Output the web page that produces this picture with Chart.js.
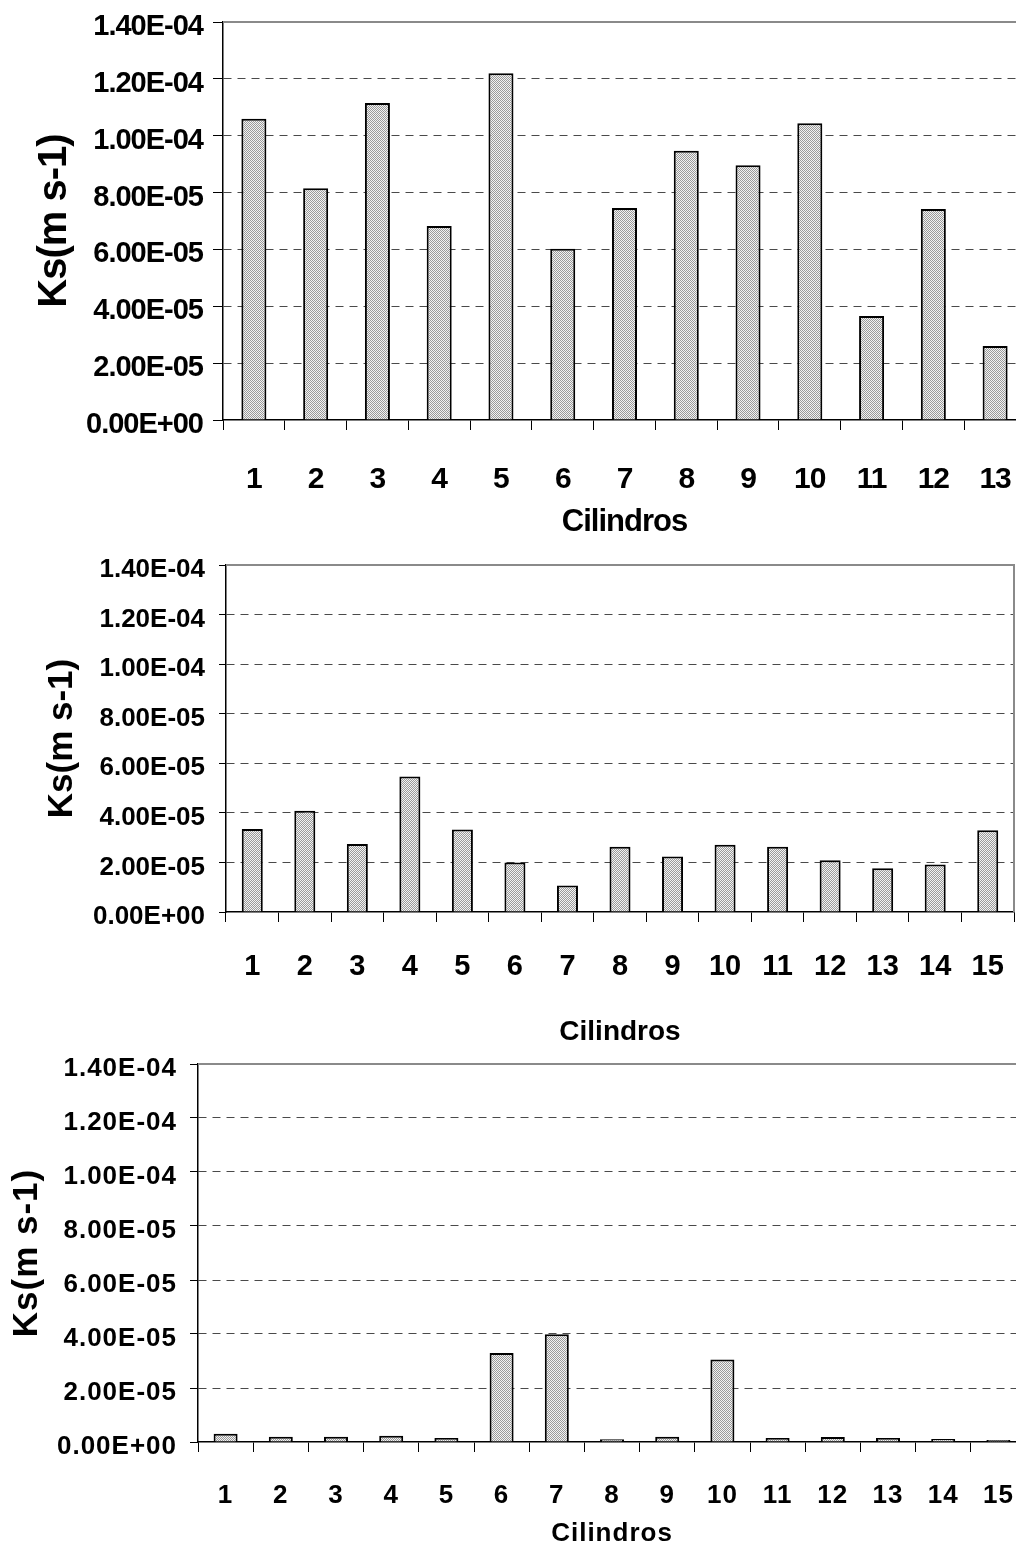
<!DOCTYPE html>
<html>
<head>
<meta charset="utf-8">
<script src="https://cdn.jsdelivr.net/npm/chart.js@4/dist/chart.umd.min.js"></script>
<style>
  html, body { margin: 0; padding: 0; background: #fff; overflow: hidden; width: 1016px; height: 1549px; }
  #wrap { position: relative; width: 1016px; height: 1549px; overflow: hidden; }
  canvas { position: absolute; left: 0; }
</style>
</head>
<body>
<div id="wrap">
  <canvas id="c1" width="1030" height="545" style="top:0px"></canvas>
  <canvas id="c2" width="1030" height="515" style="top:545px"></canvas>
  <canvas id="c3" width="1030" height="509" style="top:1040px"></canvas>
</div>
<script>
// Cylinder numbers on the x axis
const cilindros13 = ['1','2','3','4','5','6','7','8','9','10','11','12','13'];
const cilindros15 = ['1','2','3','4','5','6','7','8','9','10','11','12','13','14','15'];

// Saturated hydraulic conductivity Ks (m s-1) per cylinder
const ksSerie1 = [1.06e-4, 8.15e-5, 1.115e-4, 6.82e-5, 1.22e-4, 6.02e-5, 7.46e-5, 9.47e-5, 8.96e-5, 1.044e-4, 3.66e-5, 7.42e-5, 2.6e-5];
const ksSerie2 = [3.35e-5, 4.08e-5, 2.74e-5, 5.47e-5, 3.33e-5, 2.0e-5, 1.07e-5, 2.63e-5, 2.24e-5, 2.71e-5, 2.63e-5, 2.09e-5, 1.77e-5, 1.92e-5, 3.30e-5];
const ksSerie3 = [3.1e-6, 1.9e-6, 1.9e-6, 2.3e-6, 1.5e-6, 3.3e-5, 3.99e-5, 1.0e-6, 1.9e-6, 3.06e-5, 1.5e-6, 1.85e-6, 1.5e-6, 1.1e-6, 0.7e-6];

// Y axis tick values
const yTickValues = [0, 2e-5, 4e-5, 6e-5, 8e-5, 1e-4, 1.2e-4, 1.4e-4];

const yTitle = 'Ks(m s-1)';
const xTitle = 'Cilindros';

// Stippled grey fill used by the bars
function makeStipple() {
  const t = document.createElement('canvas');
  t.width = 4; t.height = 4;
  const g = t.getContext('2d');
  g.fillStyle = '#f2f2f2';
  g.fillRect(0, 0, 4, 4);
  g.fillStyle = '#9a9a9a';
  for (let y = 0; y < 4; y++) {
    for (let x = 0; x < 4; x++) {
      if ((x + y) % 2 === 0) g.fillRect(x, y, 1, 1);
    }
  }
  return g.createPattern(t, 'repeat');
}
const stipple = makeStipple();

// 1.40E-04 style labels
function sci(v) {
  const parts = Number(v).toExponential(2).split('e');
  const n = parseInt(parts[1], 10);
  return parts[0] + 'E' + (n < 0 ? '-' : '+') + String(Math.abs(n)).padStart(2, '0');
}

const FAMILY = '"Liberation Sans", Arial, Helvetica, sans-serif';
function font(size) {
  return { family: FAMILY, weight: 'bold', size: size, lineHeight: 1 };
}

// Grey frame along the top and right of the plot area
const framePlugin = {
  id: 'frame',
  afterDraw(chart) {
    const a = chart.chartArea;
    const ctx = chart.ctx;
    ctx.save();
    ctx.strokeStyle = '#8a8a8a';
    ctx.lineWidth = 2;
    ctx.beginPath();
    ctx.moveTo(a.left, a.top);
    ctx.lineTo(a.right, a.top);
    ctx.lineTo(a.right, a.bottom);
    ctx.stroke();
    ctx.restore();
  }
};

function buildChart(id, labels, values, g) {
  const ctx = document.getElementById(id).getContext('2d');
  const spacing = {
    id: 'spacing',
    beforeDraw(chart) { chart.ctx.letterSpacing = g.ls; }
  };
  return new Chart(ctx, {
    type: 'bar',
    data: {
      labels: labels,
      datasets: [{
        data: values,
        backgroundColor: stipple,
        borderColor: '#000',
        borderWidth: 2,
        barPercentage: g.bar,
        categoryPercentage: 1
      }]
    },
    options: {
      responsive: false,
      animation: false,
      devicePixelRatio: 1,
      layout: { padding: { top: g.top, right: g.right, bottom: 0, left: 0 } },
      plugins: { legend: { display: false }, tooltip: { enabled: false } },
      scales: {
        x: {
          offset: true,
          grid: {
            display: true, drawOnChartArea: false, drawTicks: true, offset: true,
            tickLength: 10, tickColor: '#000', tickWidth: 1
          },
          border: { display: true, color: '#000', width: 1.5 },
          ticks: { color: '#000', font: font(g.xFont), padding: g.xPad, maxRotation: 0, autoSkip: false },
          title: { display: true, text: xTitle, color: '#000', font: font(g.xTitleFont), padding: { top: 0, bottom: g.xTitlePad } },
          afterFit(s) { s.height = g.xH; s.paddingLeft = 0; s.paddingRight = 0; }
        },
        y: {
          min: 0,
          max: 1.4e-4,
          afterBuildTicks(s) { s.ticks = yTickValues.map(v => ({ value: v })); },
          grid: {
            color: (c) => (c.index === 0 || c.index === yTickValues.length - 1) ? 'rgba(0,0,0,0)' : '#4a4a4a',
            lineWidth: 1,
            drawTicks: true,
            tickLength: g.yTick,
            tickColor: '#000',
            tickWidth: 1
          },
          border: { display: true, color: '#000', width: 1.5, dash: [8, 6] },
          ticks: { color: '#000', font: font(g.yFont), padding: g.yPad, labelOffset: 5, callback: (v) => sci(v) },
          title: { display: true, text: yTitle, color: '#000', font: font(g.yTitleFont), padding: { top: g.yTitlePad, bottom: 0 } },
          afterFit(s) { s.width = g.yW; s.paddingTop = 0; s.paddingBottom = 0; }
        }
      }
    },
    plugins: [spacing, framePlugin]
  });
}

buildChart('c1', cilindros13, ksSerie1, {
  top: 22, right: 4, yW: 223, xH: 125,
  yTick: 10, yPad: 10, yFont: 29, yTitleFont: 40, yTitlePad: 35,
  xFont: 30, xPad: 35, xTitleFont: 31, xTitlePad: 7,
  bar: 0.405, ls: '-1px'
});

buildChart('c2', cilindros15, ksSerie2, {
  top: 20, right: 16, yW: 226, xH: 148,
  yTick: 7, yPad: 14, yFont: 26, yTitleFont: 35, yTitlePad: 45,
  xFont: 29, xPad: 30, xTitleFont: 28, xTitlePad: 14,
  bar: 0.4, ls: '0px'
});

buildChart('c3', cilindros15, ksSerie3, {
  top: 24, right: 4, yW: 198, xH: 107,
  yTick: 8, yPad: 13, yFont: 26, yTitleFont: 35, yTitlePad: 10,
  xFont: 26, xPad: 31, xTitleFont: 26, xTitlePad: 2,
  bar: 0.435, ls: '1px'
});
</script>
</body>
</html>
